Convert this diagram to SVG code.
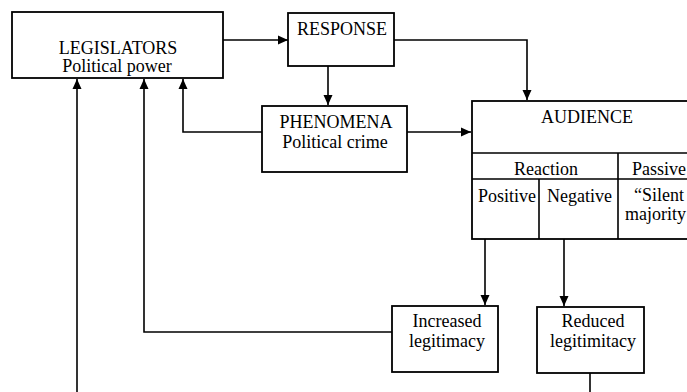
<svg xmlns="http://www.w3.org/2000/svg" width="687" height="392" viewBox="0 0 687 392">
<style>
.box{fill:#fff;stroke:#000;stroke-width:1.8}
.div{fill:none;stroke:#000;stroke-width:1.6}
.t{font-family:"Liberation Serif","Times New Roman",serif;font-size:18px;fill:#000}
.c{text-anchor:middle}
.ln{fill:none;stroke:#000;stroke-width:1.6}
</style>
<defs>
<marker id="ah" markerUnits="userSpaceOnUse" markerWidth="10" markerHeight="10" viewBox="0 0 10 10" refX="10" refY="5" orient="auto">
<path d="M0,0.5 L10,5 L0,9.5 Z" fill="#000"/>
</marker>
</defs>
<rect width="687" height="392" fill="#fff"/>
<g id="connectors">
<path class="ln" d="M223,40 H288" marker-end="url(#ah)"/>
<path class="ln" d="M328,66 V105" marker-end="url(#ah)"/>
<path class="ln" d="M394,40 H527 V100" marker-end="url(#ah)"/>
<path class="ln" d="M262,132 H183 V79" marker-end="url(#ah)"/>
<path class="ln" d="M407,132 H471" marker-end="url(#ah)"/>
<path class="ln" d="M485,239 V305" marker-end="url(#ah)"/>
<path class="ln" d="M564,239 V306" marker-end="url(#ah)"/>
<path class="ln" d="M392,332 H144 V79" marker-end="url(#ah)"/>
<path class="ln" d="M590,373 V392"/>
<path class="ln" d="M77,392 V79" marker-end="url(#ah)"/>
</g>
<g id="legislators">
<rect class="box" x="12" y="12" width="211" height="66"/>
<text class="t c" x="118" y="54">LEGISLATORS</text>
<text class="t c" x="117" y="72">Political power</text>
</g>
<g id="response">
<rect class="box" x="288" y="13" width="106" height="53"/>
<text class="t c" x="342" y="35">RESPONSE</text>
</g>
<g id="phenomena">
<rect class="box" x="262" y="106" width="145" height="66"/>
<text class="t c" x="336" y="128">PHENOMENA</text>
<text class="t c" x="335" y="148">Political crime</text>
</g>
<g id="audience">
<rect class="box" x="472" y="101" width="230" height="138"/>
<path class="div" d="M472,153 H702 M472,179 H702 M539,179 V239 M618,153 V239"/>
<text class="t c" x="587" y="123">AUDIENCE</text>
<text class="t c" x="546" y="175">Reaction</text>
<text class="t" x="632" y="175">Passive</text>
<text class="t" x="478" y="202">Positive</text>
<text class="t" x="547" y="202">Negative</text>
<text class="t" x="634" y="201">“Silent</text>
<text class="t" x="625" y="220">majority</text>
</g>
<g id="increased">
<rect class="box" x="392" y="306" width="106" height="66"/>
<text class="t c" x="447" y="327">Increased</text>
<text class="t c" x="447" y="347">legitimacy</text>
</g>
<g id="reduced">
<rect class="box" x="537" y="307" width="107" height="66"/>
<text class="t c" x="593" y="327">Reduced</text>
<text class="t c" x="593" y="347">legitimitacy</text>
</g>
</svg>
